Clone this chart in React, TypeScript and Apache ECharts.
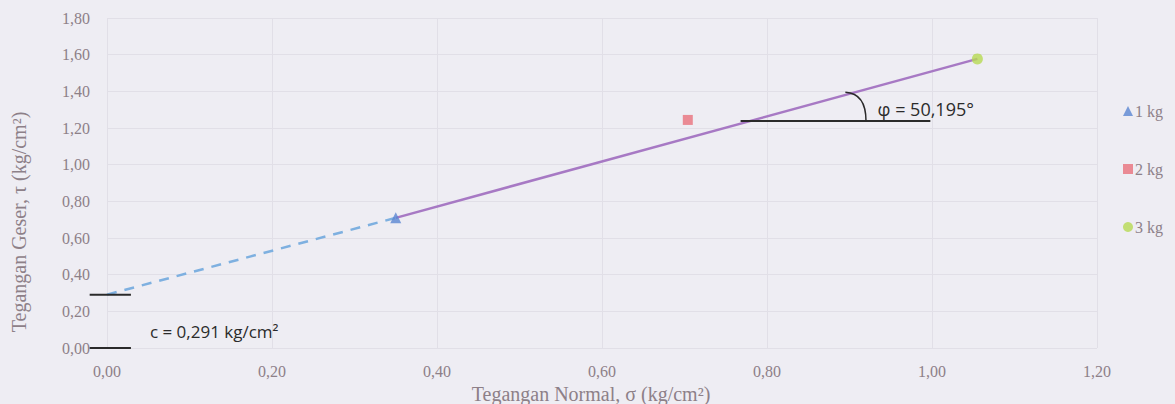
import React, { useEffect, useRef } from "react";
import * as echarts from "echarts";

const xTicks = [0, 0.2, 0.4, 0.6, 0.8, 1.0, 1.2];
const yTicks = [0, 0.2, 0.4, 0.6, 0.8, 1.0, 1.2, 1.4, 1.6, 1.8];
const seriesNames = ["1 kg", "2 kg", "3 kg"];
const sigma = [0.35, 0.704, 1.055];
const tau = [0.71, 1.244, 1.577];
const cohesion = 0.291;
const solidTrend = [[0.35, 0.71], [1.055, 1.577]];
const dashedTrend = [[0, 0.291], [0.35, 0.71]];
const cLine = [[-0.021, 0.291], [0.029, 0.291]];
const zeroLine = [[-0.021, 0], [0.029, 0]];
const phiLine = [[0.768, 1.238], [0.998, 1.238]];
const phiLabel = "φ = 50,195°";
const cLabel = "c = 0,291 kg/cm²";

const fmt = (v: number) => v.toFixed(2).replace(".", ",");
const serif = "'Liberation Serif', 'DejaVu Serif', serif";
const labelColor = "#8d8088";

export default function App() {
  const ref = useRef<HTMLDivElement>(null);
  useEffect(() => {
    if (!ref.current) return;
    const chart = echarts.init(ref.current, null, { renderer: "svg" });
    chart.setOption({
      animation: false,
      backgroundColor: "#eeedf3",
      grid: { left: 107, right: 78, top: 18, bottom: 56, outerBoundsMode: "none", containLabel: false },
      xAxis: {
        type: "value",
        min: 0,
        max: 1.2,
        interval: 0.2,
        name: "Tegangan Normal, σ (kg/cm²)",
        nameLocation: "middle",
        nameGap: 28,
        nameTextStyle: { fontFamily: serif, fontSize: 20, color: labelColor, padding: [0, 22, 0, 0] },
        axisLine: { show: false },
        axisTick: { show: false },
        axisLabel: { formatter: fmt, fontFamily: serif, fontSize: 16, color: labelColor, margin: 15 },
        splitLine: { show: true, lineStyle: { color: "#e1dfe7", width: 1 } },
      },
      yAxis: {
        type: "value",
        min: 0,
        max: 1.8,
        interval: 0.2,
        name: "Tegangan Geser, τ (kg/cm²)",
        nameLocation: "middle",
        nameGap: 78,
        nameTextStyle: { fontFamily: serif, fontSize: 20, color: labelColor, padding: [0, 78, 0, 0] },
        axisLine: { show: false },
        axisTick: { show: false },
        axisLabel: { formatter: fmt, fontFamily: serif, fontSize: 16, color: labelColor, margin: 17 },
        splitLine: { show: true, lineStyle: { color: "#e1dfe7", width: 1 } },
      },
      legend: {
        orient: "vertical",
        left: 1118,
        top: 98,
        itemGap: 42,
        itemWidth: 10,
        itemHeight: 10,
        textStyle: { fontFamily: serif, fontSize: 16, color: labelColor, padding: [0, 0, 0, -3] },
        data: [
          { name: seriesNames[0], icon: "triangle" },
          { name: seriesNames[1], icon: "rect" },
          { name: seriesNames[2], icon: "circle" },
        ],
      },
      series: [
        {
          type: "line",
          data: dashedTrend,
          symbol: "none",
          silent: true,
          lineStyle: { color: "#7eb0e0", width: 2.5, type: [10, 8] },
          z: 2,
        },
        {
          type: "line",
          data: solidTrend,
          symbol: "none",
          silent: true,
          lineStyle: { color: "#a779c4", width: 2.5 },
          z: 2,
        },
        {
          name: seriesNames[0],
          type: "scatter",
          data: [[sigma[0], tau[0]]],
          symbol: "triangle",
          symbolSize: 11,
          itemStyle: { color: "#5a86d2" },
          z: 5,
        },
        {
          name: seriesNames[1],
          type: "scatter",
          data: [[sigma[1], tau[1]]],
          symbol: "rect",
          symbolSize: 10,
          itemStyle: { color: "#e9707c" },
          z: 5,
        },
        {
          name: seriesNames[2],
          type: "scatter",
          data: [[sigma[2], tau[2]]],
          symbol: "circle",
          symbolSize: 11,
          itemStyle: { color: "#b7da52" },
          z: 5,
        },
      ],
    });
    const p = (x: number, y: number) => chart.convertToPixel({ gridIndex: 0 }, [x, y]) as number[];
    const hLine = (d: number[][]) => {
      const s = p(d[0][0], d[0][1]);
      const e = p(d[1][0], d[1][1]);
      return {
        type: "line",
        shape: { x1: s[0], y1: s[1], x2: e[0], y2: e[1] },
        style: { stroke: "#2a2a2a", lineWidth: 2 },
        z: 10,
      };
    };
    const a0 = p(0.895, 1.395);
    const a1 = p(0.915, 1.39);
    const a2 = p(0.92, 1.32);
    const a3 = p(0.92, 1.238);
    const phiPos = p(0.934, 1.305);
    const cPos = p(0.052, 0.09);
    chart.setOption({
      graphic: [
        hLine(cLine),
        hLine(zeroLine),
        hLine(phiLine),
        {
          type: "bezierCurve",
          shape: { x1: a0[0], y1: a0[1], cpx1: a1[0], cpy1: a1[1], cpx2: a2[0], cpy2: a2[1], x2: a3[0], y2: a3[1] },
          style: { stroke: "#2a2a2a", lineWidth: 1.5, fill: "none" },
          z: 10,
        },
        {
          type: "text",
          x: phiPos[0],
          y: phiPos[1],
          style: {
            text: phiLabel,
            font: "18px 'Open Sans', 'Noto Sans', sans-serif",
            fill: "#2b2b2b",
            textVerticalAlign: "middle",
          },
          z: 10,
        },
        {
          type: "text",
          x: cPos[0],
          y: cPos[1],
          style: {
            text: cLabel,
            font: "17px 'Open Sans', 'Noto Sans', sans-serif",
            fill: "#2b2b2b",
            textVerticalAlign: "middle",
          },
          z: 10,
        },
      ],
    });
    return () => chart.dispose();
  }, []);
  return <div ref={ref} style={{ width: 1175, height: 404, position: "absolute", left: 0, top: 0 }} />;
}
